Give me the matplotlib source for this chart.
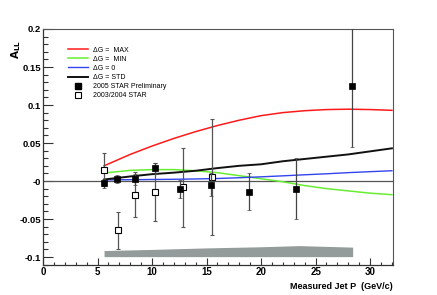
import matplotlib
matplotlib.use("Agg")
import matplotlib.pyplot as plt
from matplotlib.ticker import MultipleLocator, FixedLocator
from matplotlib.lines import Line2D

plt.rcParams['font.family'] = ['Liberation Sans', 'DejaVu Sans']

# 2005 STAR Preliminary (filled squares)
x05 = [5.6, 6.8, 8.4, 10.3, 12.6, 15.4, 18.9, 23.2, 28.3]
y05 = [-0.003, 0.003, 0.002, 0.017, -0.011, -0.005, -0.014, -0.010, 0.125]
e05 = [0.006, 0.0055, 0.007, 0.007, 0.012, 0.015, 0.024, 0.040, 0.080]

# 2003/2004 STAR (open squares)
x04 = [5.6, 6.9, 8.4, 10.3, 12.8, 15.5]
y04 = [0.015, -0.065, -0.018, -0.014, -0.008, 0.005]
e04 = [0.022, 0.024, 0.030, 0.038, 0.052, 0.076]

# systematic band
xband = [5.6, 10, 15, 20, 23.5, 28.4]
band_top = [-0.0915, -0.090, -0.088, -0.0865, -0.085, -0.087]
band_bot = [-0.0995, -0.0995, -0.0995, -0.0995, -0.0995, -0.0995]

# theory curves
xth = [5.6, 8, 10, 12, 14, 16, 18, 20, 22, 24, 26, 28, 30, 32]
dg_max = [0.020, 0.035, 0.046, 0.056, 0.065, 0.073, 0.080, 0.086, 0.090, 0.0925, 0.094, 0.0945, 0.094, 0.093]
dg_min = [0.0105, 0.014, 0.015, 0.015, 0.0135, 0.011, 0.007, 0.003, -0.001, -0.006, -0.010, -0.013, -0.016, -0.018]
dg_0 = [0.0015, 0.0017, 0.002, 0.0023, 0.0027, 0.0033, 0.0043, 0.0055, 0.0068, 0.0082, 0.0095, 0.011, 0.0123, 0.0135]
dg_std = [0.002, 0.006, 0.009, 0.011, 0.0135, 0.017, 0.020, 0.022, 0.026, 0.029, 0.032, 0.035, 0.039, 0.043]

yticks = [-0.1, -0.05, 0, 0.05, 0.1, 0.15, 0.2]
ytick_labels = ["-0.1", "-0.05", "-0", "0.05", "0.1", "0.15", "0.2"]
xticks = [0, 5, 10, 15, 20, 25, 30]
xtick_labels = ["0", "5", "10", "15", "20", "25", "30"]

fig = plt.figure(figsize=(4.37, 2.95), dpi=100)
ax = fig.add_axes([0.0984, 0.1017, 0.8009, 0.8000])
ax.set_xlim(0, 32.1)
ax.set_ylim(-0.1105, 0.2)

ax.fill_between(xband, band_bot, band_top, color='#939c9a', lw=0, zorder=1)
ax.axhline(0, color='#555555', lw=0.9, zorder=2)

ax.plot(xth, dg_max, color='#ff1a1a', lw=1.1, zorder=3)
ax.plot(xth, dg_min, color='#66ee33', lw=1.1, zorder=3)
ax.plot(xth, dg_0, color='#3344ee', lw=1.0, zorder=3)
ax.plot(xth, dg_std, color='#111111', lw=1.4, zorder=3)

ax.errorbar(x04, y04, yerr=e04, fmt='s', mfc='white', mec='black', mew=0.8,
            ms=4.2, ecolor='#555555', elinewidth=0.9, capsize=1.5, capthick=0.8, zorder=4)
ax.errorbar(x05, y05, yerr=e05, fmt='s', mfc='black', mec='black', mew=0.5,
            ms=3.8, ecolor='#444444', elinewidth=0.9, capsize=1.5, capthick=0.8, zorder=5)

ax.yaxis.set_major_locator(FixedLocator(yticks))
ax.set_yticklabels(ytick_labels)
ax.yaxis.set_minor_locator(MultipleLocator(0.01))
ax.xaxis.set_major_locator(FixedLocator(xticks))
ax.set_xticklabels(xtick_labels)
ax.xaxis.set_minor_locator(MultipleLocator(1))

ax.tick_params(axis='both', which='both', direction='in', top=False, right=False,
               color='#333333', width=0.8)
ax.tick_params(axis='y', which='major', length=7, labelsize=6.8, pad=1.5)
ax.tick_params(axis='y', which='minor', length=3.5)
ax.tick_params(axis='x', which='major', length=5, labelsize=7, pad=1.5)
ax.tick_params(axis='x', which='minor', length=2.5)
for lab in ax.get_xticklabels() + ax.get_yticklabels():
    lab.set_fontweight('bold')

for s in ['left', 'bottom']:
    ax.spines[s].set_color('#333333')
    ax.spines[s].set_linewidth(0.9)
for s in ['top', 'right']:
    ax.spines[s].set_color('#555555')
    ax.spines[s].set_linewidth(0.8)

ax.text(1.0, -0.072, "Measured Jet P  (GeV/c)", transform=ax.transAxes,
        ha='right', va='top', fontsize=6.5, fontweight='bold')
ax.text(-0.077, 0.955, r"$\mathbf{A_{LL}}$", transform=ax.transAxes,
        rotation=90, ha='center', va='top', fontsize=7.5)

handles = [
    Line2D([], [], color='#ff1a1a', lw=1.1),
    Line2D([], [], color='#66ee33', lw=1.1),
    Line2D([], [], color='#3344ee', lw=1.0),
    Line2D([], [], color='#111111', lw=1.4),
    Line2D([], [], ls='none', marker='s', mfc='black', mec='black', ms=3.8),
    Line2D([], [], ls='none', marker='s', mfc='white', mec='black', mew=0.8, ms=4.2),
]
labels = ["ΔG =  MAX", "ΔG =  MIN", "ΔG = 0", "ΔG = STD",
          "2005 STAR Preliminary", "2003/2004 STAR"]
leg = ax.legend(handles, labels, loc='upper left', bbox_to_anchor=(0.07, 0.925),
                frameon=False, fontsize=5, handlelength=2.9, handletextpad=0.7,
                labelspacing=0.3, borderaxespad=0, borderpad=0)

fig.savefig("out.png", dpi=100)
